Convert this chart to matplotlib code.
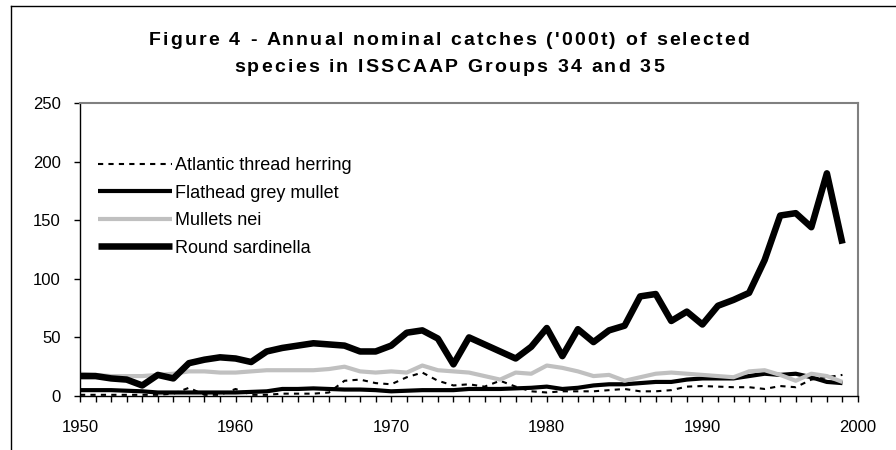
import matplotlib
matplotlib.use('Agg')
import matplotlib.pyplot as plt
from matplotlib.font_manager import FontProperties
from matplotlib.lines import Line2D
from matplotlib.ticker import MultipleLocator

plt.rcParams['font.family'] = ['Liberation Sans', 'DejaVu Sans']

# catches in thousand tonnes, 1950-1999
years = list(range(1950, 2000))

atlantic_thread_herring = [1, 1, 1, 1, 1, 1, 2, 7, 1, 1,
                           6, 1, 1, 2, 2, 2, 3, 13, 14, 11,
                           10, 16, 20, 13, 9, 10, 8, 13, 8, 4,
                           3, 4, 4, 4, 5, 6, 4, 4, 5, 8,
                           8.5, 8, 7.5, 7.5, 6, 8.5, 7.5, 14, 16, 18]
flathead_grey_mullet = [5, 5, 5, 4.5, 4, 3, 3, 3, 3, 3,
                        3, 3.5, 4, 6, 6, 6.5, 6, 5.5, 5.5, 5,
                        4, 4.5, 5, 5, 5, 6, 6, 6, 6.5, 7,
                        8, 6, 7, 9, 10, 10, 11, 12, 12, 14,
                        15, 15, 15, 17, 19, 18, 19, 16, 12, 11]
mullets_nei = [19, 18, 17, 17, 17, 18, 19, 21, 21, 20,
               20, 21, 22, 22, 22, 22, 23, 25, 21, 20,
               21, 20, 26, 22, 21, 20, 17, 14, 20, 19,
               26, 24, 21, 17, 18, 13, 16, 19, 20, 19,
               18, 17, 16, 21, 22, 18, 13, 19, 17, 12]
round_sardinella = [17, 17, 15, 14, 9, 18, 15, 28, 31, 33,
                    32, 29, 38, 41, 43, 45, 44, 43, 38, 38,
                    43, 54, 56, 49, 27, 50, 44, 38, 32, 42,
                    58, 34, 57, 46, 56, 60, 85, 87, 64, 72,
                    61, 77, 82, 88, 116, 154, 156, 144, 190, 130]

title_lines = ["Figure 4 - Annual nominal catches ('000t) of selected",
               "species in ISSCAAP Groups 34 and 35"]

W, H = 896, 450
fig = plt.figure(figsize=(W / 100, H / 100), dpi=100)
ax = fig.add_axes([80 / W, 54 / H, 778 / W, 293 / H])

ax.plot(years, atlantic_thread_herring, color='black', lw=1.5,
        linestyle=(0, (2.5, 2.5)), label='Atlantic thread herring')
ax.plot(years, flathead_grey_mullet, color='black', lw=3,
        solid_capstyle='butt', label='Flathead grey mullet')
ax.plot(years, mullets_nei, color='#c0c0c0', lw=3,
        solid_capstyle='butt', label='Mullets nei')
ax.plot(years, round_sardinella, color='black', lw=4.7,
        solid_capstyle='butt', label='Round sardinella')

ax.set_xlim(1950, 2000)
ax.set_ylim(0, 250)
ax.xaxis.set_major_locator(MultipleLocator(10))
ax.xaxis.set_minor_locator(MultipleLocator(1))
ax.yaxis.set_major_locator(MultipleLocator(50))
ax.tick_params(axis='x', which='both', direction='out', length=4, width=1,
               labelsize=12, pad=13)
ax.tick_params(axis='y', direction='out', length=4, width=1,
               labelsize=12, pad=10)

for side in ['left', 'bottom']:
    ax.spines[side].set_color('black')
    ax.spines[side].set_linewidth(1)
for side in ['top', 'right']:
    ax.spines[side].set_color('#808080')
    ax.spines[side].set_linewidth(1.5)

ax.legend(loc='upper left', bbox_to_anchor=(0.023, 0.815), frameon=False,
          fontsize=13, handlelength=4.1, handletextpad=0.15,
          labelspacing=0.58, borderpad=0, borderaxespad=0)


def spaced_text(x_px, y_px, s, gap, prop):
    # draw s centred at x_px with extra gap between letters, baseline at y_px
    r = fig.canvas.get_renderer()
    ref = r.get_text_width_height_descent('|', prop, ismath=False)[0]
    offs = []
    for i in range(len(s)):
        w = r.get_text_width_height_descent(s[:i] + '|', prop, ismath=False)[0]
        offs.append(w - ref)
    full = r.get_text_width_height_descent(s, prop, ismath=False)[0]
    x0 = x_px - (full + gap * (len(s) - 1)) / 2
    for i, ch in enumerate(s):
        if ch == ' ':
            continue
        fig.text((x0 + offs[i] + i * gap) / W, 1 - y_px / H, ch,
                 fontproperties=prop, ha='left', va='baseline')


title_font = FontProperties(family='Liberation Sans', weight='bold', size=14)
spaced_text(449, 45, title_lines[0], 2.2, title_font)
spaced_text(449, 72, title_lines[1], 2.2, title_font)

# chart area border (only top and left are inside the picture)
fig.add_artist(Line2D([11 / W, 1], [1 - 6 / H, 1 - 6 / H], color='black', lw=1))
fig.add_artist(Line2D([11 / W, 11 / W], [0, 1 - 6 / H], color='black', lw=1))

fig.savefig('out.png', dpi=100)
